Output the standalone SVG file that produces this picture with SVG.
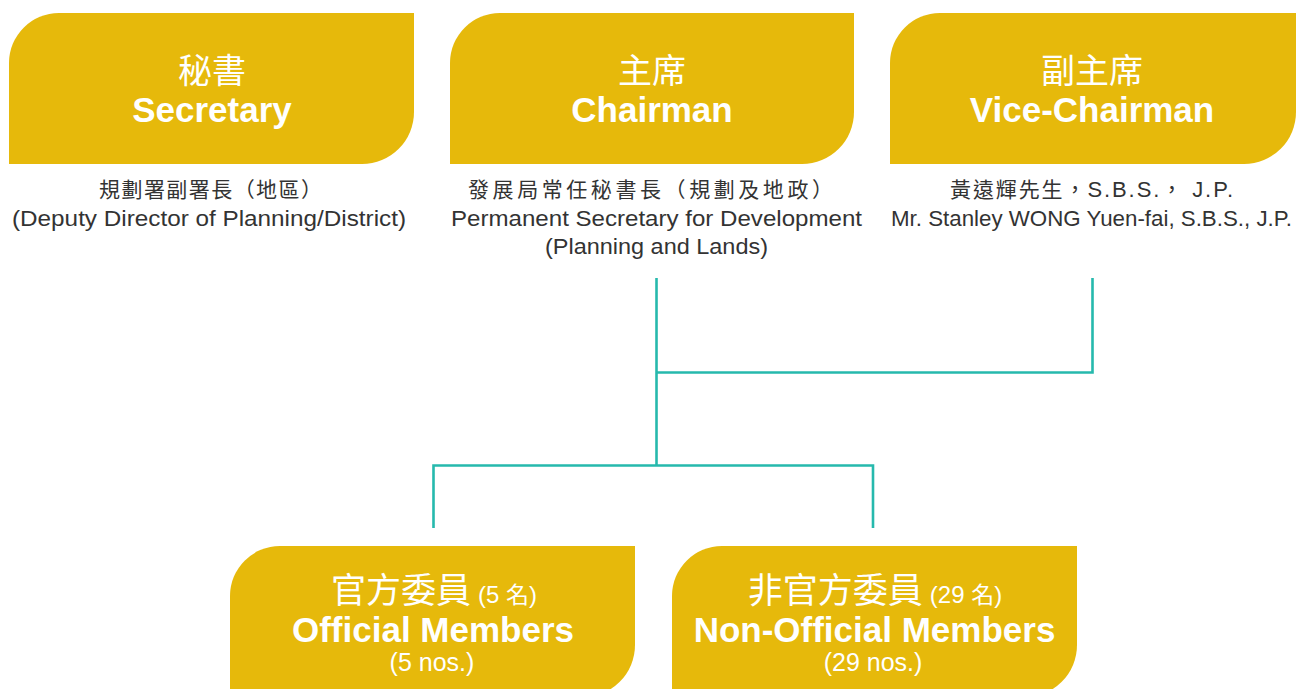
<svg xmlns="http://www.w3.org/2000/svg" width="1296" height="689" viewBox="0 0 1296 689">
<style>
.box{fill:#E6B90B}
.t-cjk{font-family:'Noto Sans CJK TC','Noto Sans CJK SC',sans-serif;font-weight:400;fill:#fff;text-anchor:middle}
.t-en{font-family:'Liberation Sans',Arial,sans-serif;font-weight:bold;fill:#fff;text-anchor:middle}
.t-small{font-family:'Liberation Sans',Arial,'Noto Sans CJK TC',sans-serif;fill:#fff;text-anchor:middle}
.sub{font-family:'Liberation Sans',Arial,'Noto Sans CJK TC',sans-serif;fill:#333;text-anchor:middle;font-size:22px}
.sub-cjk{font-family:'Noto Sans CJK TC','Noto Sans CJK SC',sans-serif;fill:#333;text-anchor:middle;font-size:21px}
.conn{fill:none;stroke:#26B9AD;stroke-width:2.6}
</style>
<g id="connectors">
<path class="conn" d="M656.5,278 V465"/>
<path class="conn" d="M656.5,372.5 H1092.5 V278"/>
<path class="conn" d="M433.5,528 V465.5 H873 V528"/>
</g>
<g id="secretary">
<path class="box" d="M9,164 V63 A50,50 0 0 1 59,13 H414 V112 A52,52 0 0 1 362,164 Z"/>
<text class="t-cjk" x="212" y="83" font-size="34">秘書</text>
<text class="t-en" x="212" y="122" font-size="35">Secretary</text>
<text class="sub-cjk" x="210.5" y="197" textLength="223" lengthAdjust="spacing">規劃署副署長（地區）</text>
<text class="sub" x="209" y="226" textLength="394" lengthAdjust="spacingAndGlyphs">(Deputy Director of Planning/District)</text>
</g>
<g id="chairman">
<path class="box" d="M450,164 V63 A50,50 0 0 1 500,13 H854 V112 A52,52 0 0 1 802,164 Z"/>
<text class="t-cjk" x="652" y="83" font-size="34">主席</text>
<text class="t-en" x="652" y="122" font-size="35">Chairman</text>
<text class="sub-cjk" x="650.5" y="197" textLength="365" lengthAdjust="spacing">發展局常任秘書長（規劃及地政）</text>
<text class="sub" x="656.5" y="226" textLength="411" lengthAdjust="spacingAndGlyphs">Permanent Secretary for Development</text>
<text class="sub" x="656.5" y="254" textLength="223" lengthAdjust="spacingAndGlyphs">(Planning and Lands)</text>
</g>
<g id="vice-chairman">
<path class="box" d="M890,164 V63 A50,50 0 0 1 940,13 H1296 V112 A52,52 0 0 1 1244,164 Z"/>
<text class="t-cjk" x="1092" y="83" font-size="34">副主席</text>
<text class="t-en" x="1092" y="122" font-size="35">Vice-Chairman</text>
<text class="sub" x="1091.5" y="197" textLength="283" lengthAdjust="spacing"><tspan font-family="'Noto Sans CJK TC',sans-serif" font-size="21">黃遠輝先生，</tspan>S.B.S.<tspan font-family="'Noto Sans CJK TC',sans-serif" font-size="21">，</tspan> J.P.</text>
<text class="sub" x="1091.5" y="226" textLength="401" lengthAdjust="spacingAndGlyphs">Mr. Stanley WONG Yuen-fai, S.B.S., J.P.</text>
</g>
<g id="official-members">
<path class="box" d="M230,697 V596 A50,50 0 0 1 280,546 H635 V645 A52,52 0 0 1 583,697 Z"/>
<text class="t-small" x="434" y="603"><tspan class="t-cjk" font-size="35">官方委員</tspan><tspan font-size="24" dx="7">(5 </tspan><tspan font-family="'Noto Sans CJK TC',sans-serif" font-size="23">名</tspan><tspan font-size="24">)</tspan></text>
<text class="t-en" x="433" y="642" font-size="35">Official Members</text>
<text class="t-small" x="432" y="671" font-size="25">(5 nos.)</text>
</g>
<g id="non-official-members">
<path class="box" d="M672,697 V596 A50,50 0 0 1 722,546 H1077 V645 A52,52 0 0 1 1025,697 Z"/>
<text class="t-small" x="875" y="603"><tspan class="t-cjk" font-size="35">非官方委員</tspan><tspan font-size="24" dx="7">(29 </tspan><tspan font-family="'Noto Sans CJK TC',sans-serif" font-size="23">名</tspan><tspan font-size="24">)</tspan></text>
<text class="t-en" x="874.5" y="642" font-size="35">Non-Official Members</text>
<text class="t-small" x="873" y="671" font-size="25">(29 nos.)</text>
</g>
</svg>
